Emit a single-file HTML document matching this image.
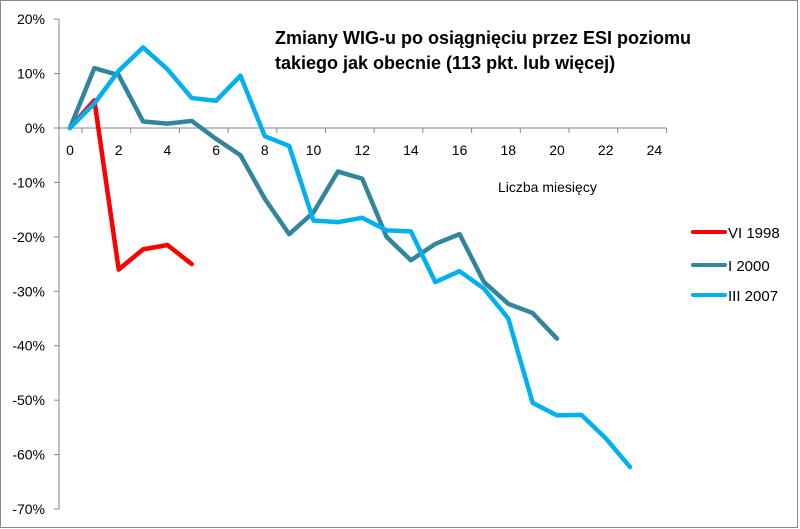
<!DOCTYPE html>
<html><head><meta charset="utf-8"><style>
html,body{margin:0;padding:0;background:#fff;}
svg{display:block;font-family:"Liberation Sans",sans-serif;}
</style></head><body>
<svg id="c" width="800" height="529">
<rect x="0.5" y="0.5" width="797" height="527" fill="#fff" stroke="#888"/>
<text x="275" y="44" font-size="18" font-weight="bold" fill="#000">Zmiany WIG-u po osiągnięciu przez ESI poziomu</text>
<text x="275" y="69" font-size="18" font-weight="bold" fill="#000">takiego jak obecnie (113 pkt. lub więcej)</text>
<text x="498" y="192" font-size="14" fill="#000">Liczba miesięcy</text>
<g id="axes"></g><g id="series"></g><g id="legend"></g>
</svg>
<script>
const yTicks=[20,10,0,-10,-20,-30,-40,-50,-60,-70];
const xTicks=[0,2,4,6,8,10,12,14,16,18,20,22,24];
const seriesNames=["VI 1998","I 2000","III 2007"];
const vi1998=[0,5.1,-26,-22.3,-21.5,-25];
const i2000=[0,11,9.7,1.2,0.8,1.3,-2,-5,-13,-19.5,-15.5,-8,-9.3,-20,-24.3,-21.3,-19.5,-28.3,-32.3,-34,-38.7];
const iii2007=[0,4.5,10.5,14.8,10.8,5.5,5,9.6,-1.5,-3.3,-17,-17.3,-16.5,-18.8,-19,-28.3,-26.3,-29.5,-35,-50.5,-52.8,-52.7,-57,-62.3];
const colors=["#ff0000","#31859c","#00b0f0"];
const NS="http://www.w3.org/2000/svg";
const X=v=>70+v*24.35, Y=v=>128-v*5.443;
function mk(t,a,p){const e=document.createElementNS(NS,t);for(const k in a)e.setAttribute(k,a[k]);p.appendChild(e);return e;}
const ax=document.getElementById('axes');
let yl=mk('line',{x1:59,y1:Y(20),x2:59,y2:Y(-70),stroke:'#868686'},ax);


let xl=mk('line',{x1:59,y1:Y(0),x2:X(24.5),y2:Y(0),stroke:'#868686'},ax);


yTicks.forEach(v=>{
 mk('line',{x1:54,y1:Y(v),x2:59,y2:Y(v),stroke:'#868686'},ax);
 const t=mk('text',{x:45,y:Y(v)+5,'text-anchor':'end','font-size':14,fill:'#000'},ax);
 t.textContent=v+'%';
 
 
});
xTicks.forEach(v=>{
 mk('line',{x1:X(v)+12,y1:Y(0),x2:X(v)+12,y2:Y(0)+5,stroke:'#868686'},ax);
 const t=mk('text',{x:X(v),y:155,'text-anchor':'middle','font-size':14,fill:'#000'},ax);
 t.textContent=v;
 
 
});
const sg=document.getElementById('series');
[vi1998,i2000,iii2007].forEach((d,i)=>{
 const p=mk('polyline',{points:d.map((v,k)=>X(k)+','+Y(v)).join(' '),fill:'none',stroke:colors[i],'stroke-width':4.5,'stroke-linejoin':'round','stroke-linecap':'round'},sg);
 
 
});
const lg=document.getElementById('legend');
const ly=[232,265,295];
seriesNames.forEach((n,i)=>{
 const l=mk('line',{x1:693,y1:ly[i],x2:725,y2:ly[i],stroke:colors[i],'stroke-width':4,'stroke-linecap':'round'},lg);
 
 
 const t=mk('text',{x:728,y:ly[i]+6,'font-size':15,fill:'#000'},lg);
 t.textContent=n;
 
 
});
</script>
</body></html>
